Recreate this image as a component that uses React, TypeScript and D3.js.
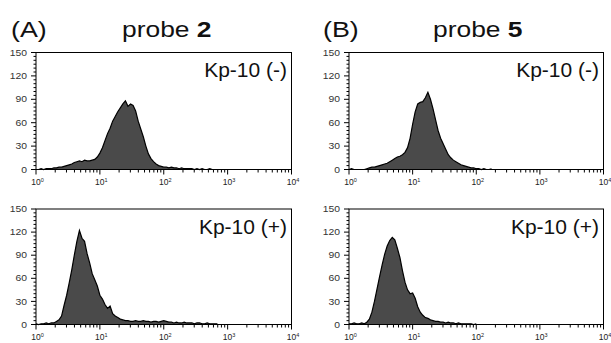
import React from "react";
import * as d3 from "d3";

// channel width of every histogram bin, in decades (bin i sits at 10^(i * BIN))
const BIN = 0.04;

// cell counts per bin
const probe2Minus = [
  0, 0, 1, 0, 1, 1, 1, 2, 2, 3, 3, 4, 5, 6, 7, 9, 10, 11, 10, 12,
  11, 11, 12, 13, 16, 21, 28, 37, 46, 53, 62, 68, 74, 79, 84, 88, 81, 84, 82, 75,
  62, 52, 42, 30, 20, 14, 10, 7, 5, 4, 3, 3, 2, 3, 2, 2, 1, 2, 1, 1,
  1, 1, 0, 1, 0, 1, 0, 0, 1, 0,
];
const probe2Plus = [
  1, 0, 1, 1, 2, 1, 2, 2, 4, 6, 11, 25, 38, 54, 71, 90, 108, 122, 112, 108,
  92, 80, 66, 58, 50, 38, 33, 26, 21, 24, 14, 11, 9, 7, 6, 5, 5, 4, 4, 5,
  4, 4, 5, 4, 4, 3, 4, 4, 3, 4, 5, 4, 3, 3, 2, 3, 2, 2, 3, 2,
  2, 2, 1, 2, 2, 1, 1, 2, 1, 1, 1, 1,
];
const probe5Minus = [
  0, 1, 0, 0, 0, 0, 0, 1, 2, 3, 3, 4, 5, 6, 7, 8, 10, 12, 14, 16,
  17, 19, 22, 28, 40, 58, 74, 84, 86, 87, 92, 99, 90, 78, 64, 50, 40, 33, 26, 19,
  15, 12, 10, 8, 6, 5, 4, 3, 2, 2, 1, 1, 0, 1, 0, 0, 1,
];
const probe5Plus = [
  1, 1, 2, 1, 1, 2, 1, 3, 7, 16, 30, 46, 62, 77, 91, 102, 109, 113, 110, 99,
  87, 70, 55, 45, 40, 41, 34, 23, 16, 12, 9, 8, 6, 5, 4, 4, 3, 3, 2, 3,
  2, 2, 1, 2, 1, 1, 1, 1, 1, 0, 1,
];

const yTicks = [0, 30, 60, 90, 120, 150];
const xExponents = [0, 1, 2, 3, 4];

const FONT = "'Liberation Sans', Arial, Helvetica, sans-serif";

interface HistProps {
  left: number;
  right: number;
  top: number;
  bottom: number;
  counts: number[];
  label: string;
}

const Histogram: React.FC<HistProps> = ({ left, right, top, bottom, counts, label }) => {
  const x = d3.scaleLog().domain([1, 1e4]).range([left, right]);
  const y = d3.scaleLinear().domain([0, 150]).range([bottom, top]);

  const pts: [number, number][] = counts.map((c, i) => [Math.pow(10, i * BIN), c]);
  const area = d3
    .area<[number, number]>()
    .x((d) => x(d[0]))
    .y0(y(0))
    .y1((d) => y(d[1]));
  const line = d3
    .line<[number, number]>()
    .x((d) => x(d[0]))
    .y((d) => y(d[1]));

  const minorY = d3.range(0, 151, 5);
  const minorX = xExponents
    .slice(0, -1)
    .flatMap((k) => d3.range(2, 10).map((m) => m * Math.pow(10, k)));

  return (
    <g>
      <path d={area(pts) || ""} fill="#4a4a4a" />
      <path d={line(pts) || ""} fill="none" stroke="#000" strokeWidth={1.2} />
      <rect x={left} y={top} width={right - left} height={bottom - top} fill="none" stroke="#000" strokeWidth={1} />

      {minorY.map((v) => (
        <line key={"my" + v} x1={left - (v % 30 === 0 ? 5 : 2.5)} x2={left} y1={y(v)} y2={y(v)} stroke="#000" strokeWidth={1} />
      ))}
      {yTicks.map((v) => (
        <text
          key={"yl" + v}
          transform={`translate(${left - 9},${y(v)}) scale(1.15,1)`}
          dy="0.35em"
          textAnchor="end"
          fontSize={9}
          fill="#333"
        >
          {v}
        </text>
      ))}

      {minorX.map((v) => (
        <line key={"mx" + v} x1={x(v)} x2={x(v)} y1={bottom} y2={bottom + 3} stroke="#000" strokeWidth={1} />
      ))}
      {xExponents.map((k) => (
        <g key={"xl" + k}>
          <line x1={x(Math.pow(10, k))} x2={x(Math.pow(10, k))} y1={bottom} y2={bottom + 5} stroke="#000" strokeWidth={1} />
          <text x={x(Math.pow(10, k)) - 4.8} y={bottom + 15.5} fontSize={8.5} fill="#222">
            10
            <tspan dy={-3.5} fontSize={5.5}>
              {k}
            </tspan>
          </text>
        </g>
      ))}

      <text x={right - 4.5} y={top + 24.5} textAnchor="end" fontSize={21} fill="#111">
        {label}
      </text>
    </g>
  );
};

const App: React.FC = () => {
  return (
    <svg
      width={611}
      height={343}
      viewBox="0 0 611 343"
      style={{ position: "absolute", left: 0, top: 0, background: "#fff", fontFamily: FONT }}
    >
      <text transform="translate(11,37) scale(1.22,1)" fontSize={22} fill="#111">
        (A)
      </text>
      <text transform="translate(122,37) scale(1.2,1)" fontSize={22} fill="#111">
        probe <tspan fontWeight="bold">2</tspan>
      </text>
      <text transform="translate(323,37) scale(1.22,1)" fontSize={22} fill="#111">
        (B)
      </text>
      <text transform="translate(433,37) scale(1.2,1)" fontSize={22} fill="#111">
        probe <tspan fontWeight="bold">5</tspan>
      </text>

      <Histogram left={36} right={291.5} top={52.5} bottom={169.5} counts={probe2Minus} label="Kp-10 (-)" />
      <Histogram left={36} right={291.5} top={209} bottom={324.5} counts={probe2Plus} label="Kp-10 (+)" />
      <Histogram left={349} right={603.5} top={52.5} bottom={169.5} counts={probe5Minus} label="Kp-10 (-)" />
      <Histogram left={349} right={603.5} top={209} bottom={324.5} counts={probe5Plus} label="Kp-10 (+)" />
    </svg>
  );
};

export default App;
